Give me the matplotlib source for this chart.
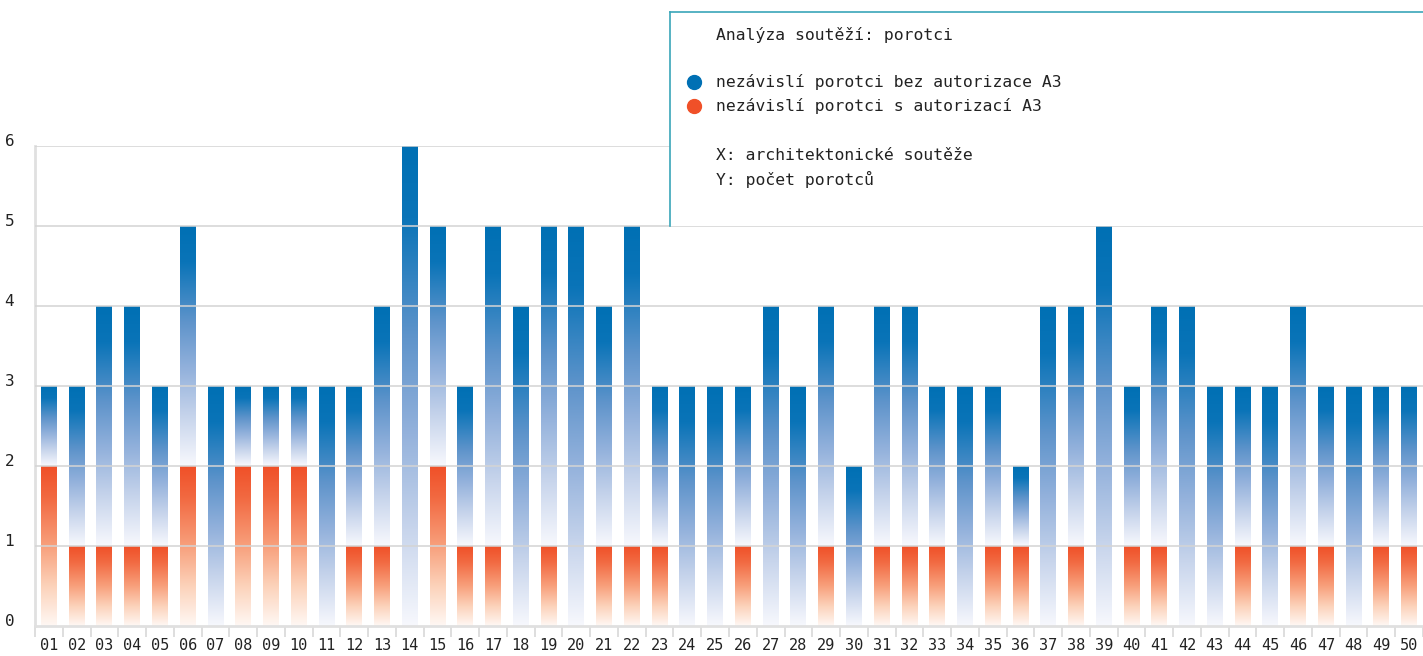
"""Stacked gradient bars: porotci per architectural competition."""

import matplotlib

matplotlib.use("Agg")
import matplotlib.pyplot as plt
import matplotlib.transforms as mtransforms
import numpy as np
from matplotlib.colors import LinearSegmentedColormap
from matplotlib.lines import Line2D
from matplotlib.patches import Rectangle

FONT = "DejaVu Sans Mono"

categories = [f"{i:02d}" for i in range(1, 51)]
# nezávislí porotci s autorizací A3 (orange, bottom)
with_a3 = [2, 1, 1, 1, 1, 2, 0, 2, 2, 2,
           0, 1, 1, 0, 2, 1, 1, 0, 1, 0,
           1, 1, 1, 0, 0, 1, 0, 0, 1, 0,
           1, 1, 1, 0, 1, 1, 0, 1, 0, 1,
           1, 0, 0, 1, 0, 1, 1, 0, 1, 1]
# nezávislí porotci bez autorizace A3 (blue, top)
without_a3 = [1, 2, 3, 3, 2, 3, 3, 1, 1, 1,
              3, 2, 3, 6, 3, 2, 4, 4, 4, 5,
              3, 4, 2, 3, 3, 2, 4, 3, 3, 2,
              3, 3, 2, 3, 2, 1, 4, 3, 5, 2,
              3, 4, 3, 2, 3, 3, 2, 3, 2, 2]
y_ticks = [0, 1, 2, 3, 4, 5, 6]

legend_title = "Analýza soutěží: porotci"
legend_items = [("nezávislí porotci bez autorizace A3", "#0070b4"),
                ("nezávislí porotci s autorizací A3", "#f05028")]
axis_notes = ["X: architektonické soutěže", "Y: počet porotců"]

blue_cmap = LinearSegmentedColormap.from_list(
    "blue_fade",
    [(0.0, "#f7f8fd"), (0.2, "#c8d5ec"), (0.4, "#94b2dc"),
     (0.6, "#5f94cb"), (0.85, "#0a74b8"), (1.0, "#0070b4")])
orange_cmap = LinearSegmentedColormap.from_list(
    "orange_fade",
    [(0.0, "#fff8f4"), (0.25, "#fcd2ba"), (0.5, "#f8a07c"),
     (0.8, "#f26a42"), (1.0, "#f05028")])

W, H = 1423, 656
fig = plt.figure(figsize=(W / 100, H / 100), dpi=100)
ax = fig.add_axes([35 / W, 1 - 626 / H, 1 - 35 / W, (626 - 146) / H])

x = np.arange(len(categories))
bar_w = 0.57
grad = np.linspace(0, 1, 256).reshape(-1, 1)

bottoms = np.array(with_a3, dtype=float)
for seg_bottom, seg_height, cmap in (
    (np.zeros(len(x)), np.array(with_a3, dtype=float), orange_cmap),
    (bottoms, np.array(without_a3, dtype=float), blue_cmap),
):
    bars = ax.bar(x, seg_height, bottom=seg_bottom, width=bar_w,
                  color="none", edgecolor="none", zorder=2)
    for rect in bars:
        h = rect.get_height()
        if h <= 0:
            continue
        x0, y0 = rect.get_x(), rect.get_y()
        ax.imshow(grad, extent=[x0, x0 + rect.get_width(), y0, y0 + h],
                  origin="lower", aspect="auto", cmap=cmap, zorder=2,
                  interpolation="bilinear")

ax.set_xlim(-0.5, len(x) - 0.5)
ax.set_ylim(0, 6)

# grid drawn over the bars, as in the original
for yv in y_ticks[1:]:
    ax.axhline(yv, color="#d4d4d4", lw=1.4, alpha=0.8, zorder=3)

for side in ("top", "right"):
    ax.spines[side].set_visible(False)
for side in ("left", "bottom"):
    ax.spines[side].set_color("#e0e0e0")
    ax.spines[side].set_linewidth(2)

ax.set_xticks(x)
ax.set_xticklabels(categories, fontfamily=FONT, fontsize=11, color="#222222")
ax.set_xticks(np.arange(len(x) + 1) - 0.5, minor=True)
ax.tick_params(axis="x", which="major", length=0, pad=9)
ax.tick_params(axis="x", which="minor", length=8, width=1.2, color="#d8d8d8")

ax.set_yticks(y_ticks)
ax.set_yticklabels([str(v) for v in y_ticks], fontfamily=FONT, fontsize=11.5,
                   color="#222222")
ax.tick_params(axis="y", length=0, pad=15)
shift = mtransforms.ScaledTranslation(0, 6 / 100, fig.dpi_scale_trans)
for lbl in ax.get_yticklabels():
    lbl.set_transform(lbl.get_transform() + shift)

# legend box
bx0, by_top, by_bot = 670, 12, 226
fig.add_artist(Rectangle((bx0 / W, 1 - by_bot / H), (W - bx0) / W,
                         (by_bot - by_top) / H, transform=fig.transFigure,
                         facecolor="white", edgecolor="none", zorder=5))
edge = "#3aa6b9"
fig.add_artist(Line2D([bx0 / W, bx0 / W], [1 - by_bot / H, 1 - by_top / H],
                      transform=fig.transFigure, color=edge, lw=1.2, zorder=6))
fig.add_artist(Line2D([bx0 / W, 1], [1 - by_top / H, 1 - by_top / H],
                      transform=fig.transFigure, color=edge, lw=1.2, zorder=6))

tx = 716 / W
fig.text(tx, 1 - 35 / H, legend_title, fontfamily=FONT, fontsize=11.8,
         va="center", color="#222222", zorder=7)
for i, (label, col) in enumerate(legend_items):
    yy = 1 - (82 + 24 * i) / H
    fig.add_artist(Line2D([694 / W], [yy], marker="o", markersize=10,
                          color=col, transform=fig.transFigure, zorder=7))
    fig.text(tx, yy, label, fontfamily=FONT, fontsize=11.8, va="center",
             color="#222222", zorder=7)
for i, note in enumerate(axis_notes):
    fig.text(tx, 1 - (155 + 24 * i) / H, note, fontfamily=FONT, fontsize=11.8,
             va="center", color="#222222", zorder=7)

fig.savefig("out.png", dpi=100, facecolor="white")
